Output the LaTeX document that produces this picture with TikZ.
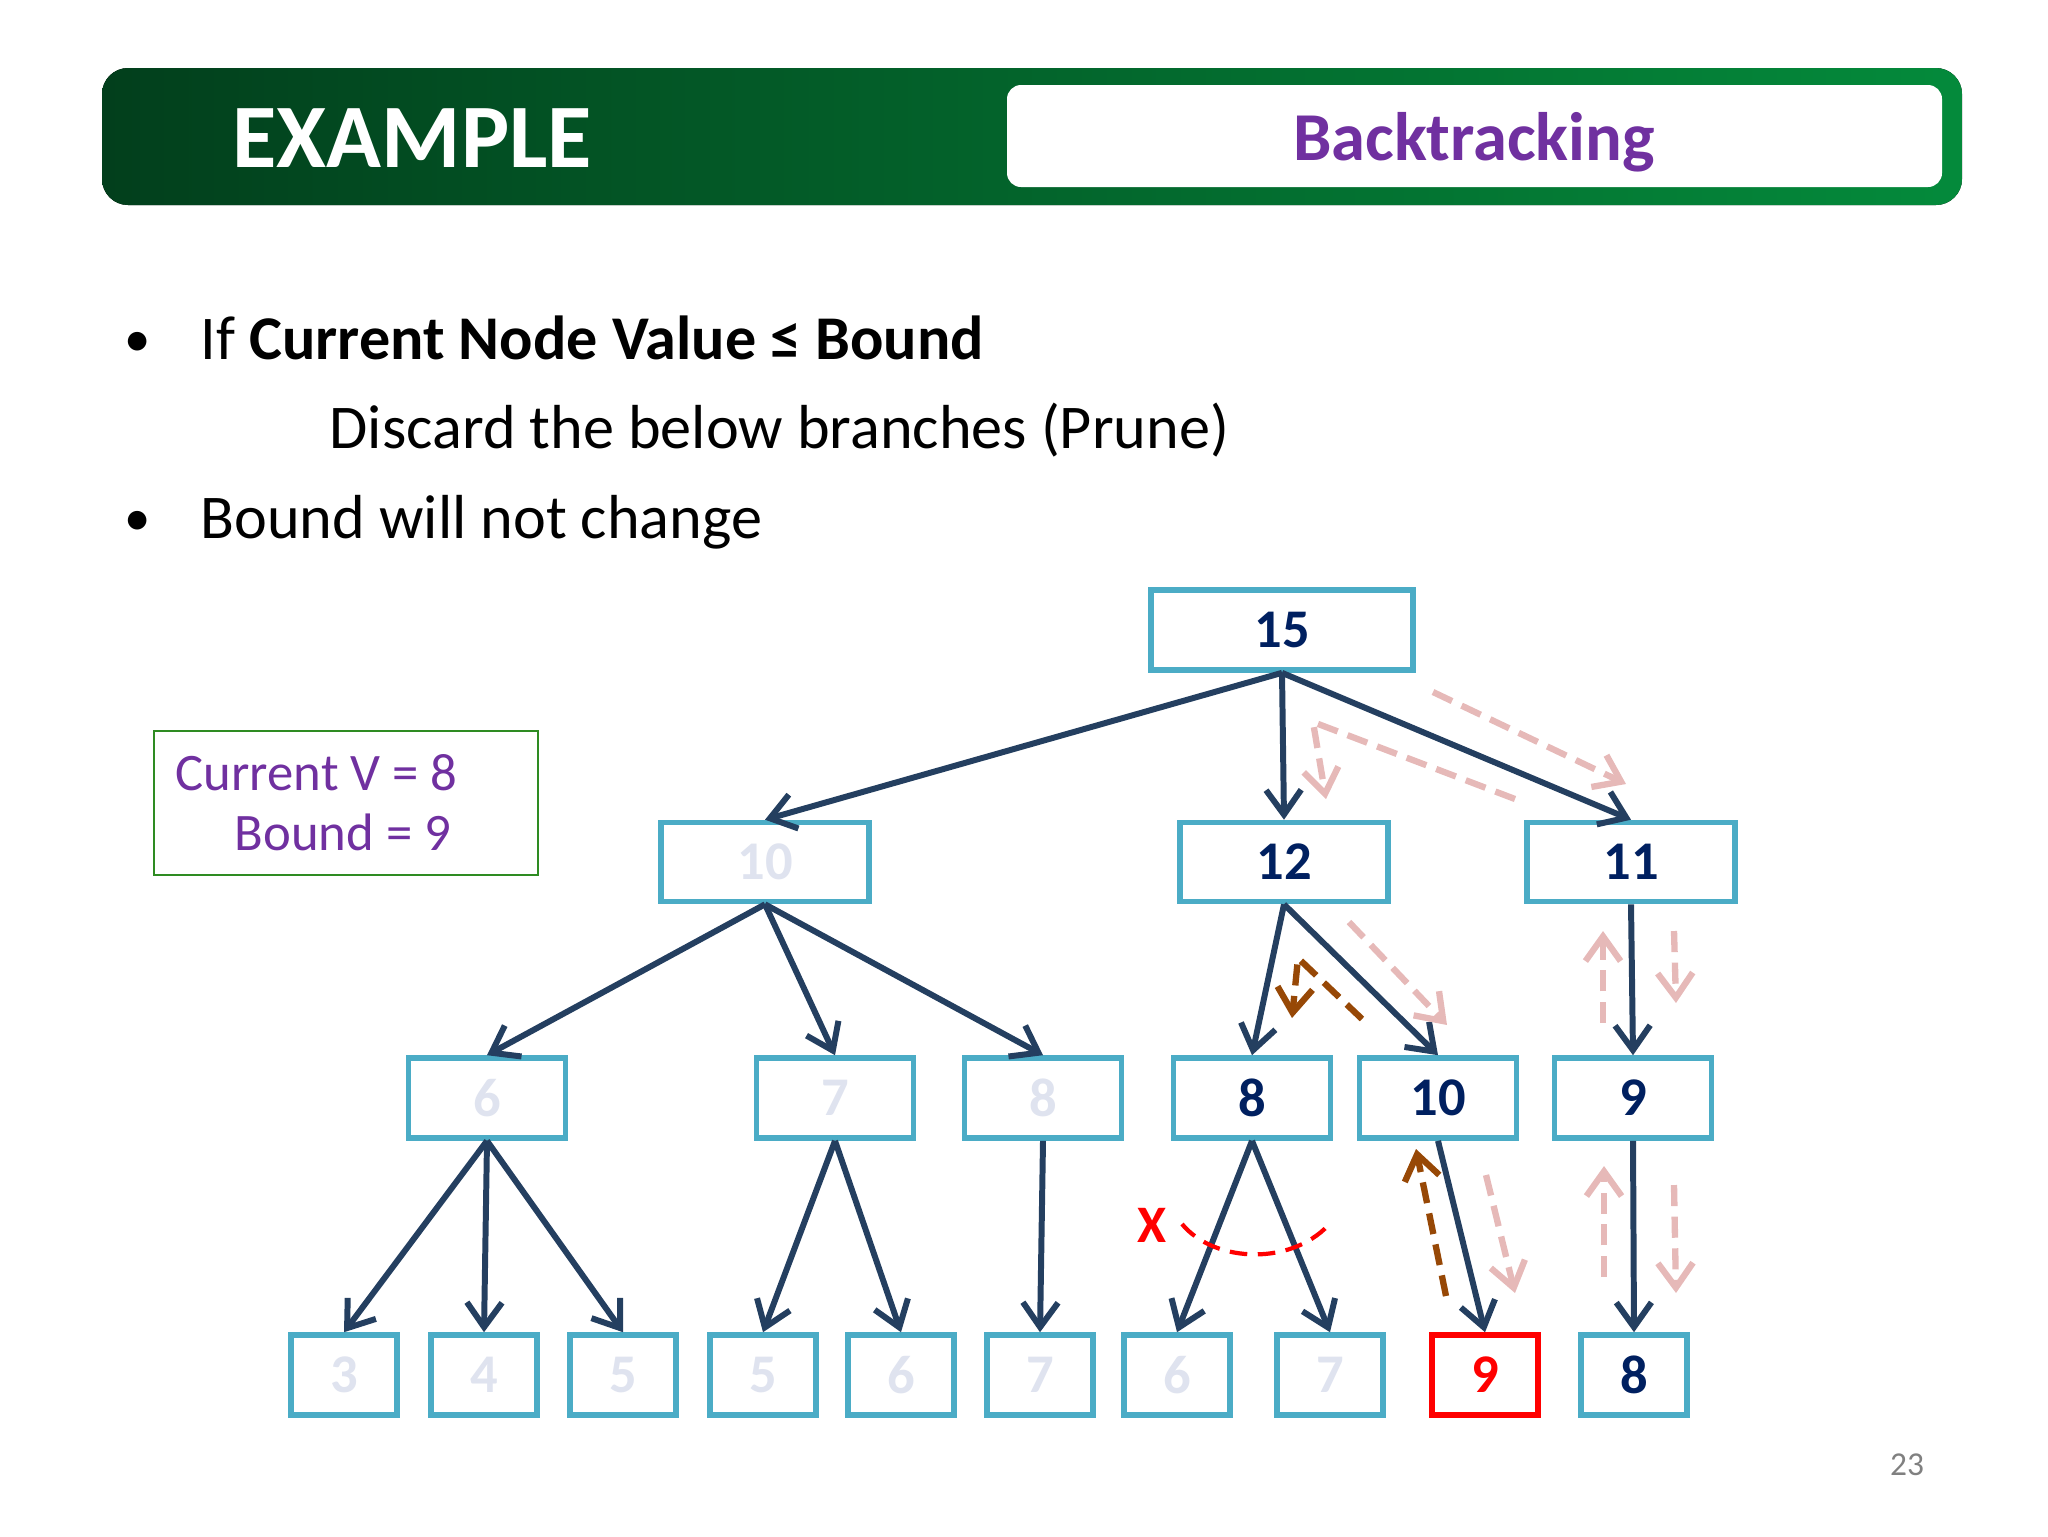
\documentclass[tikz,border=0pt]{standalone}
\usepackage{fontspec}
\setmainfont{Carlito}
\usetikzlibrary{arrows.meta}

\definecolor{hdrdark}{HTML}{023F1C}
\definecolor{hdrlight}{HTML}{048A3B}
\definecolor{slidepurple}{HTML}{7030A0}
\definecolor{boxteal}{HTML}{4BACC6}
\definecolor{numnavy}{HTML}{002060}
\definecolor{edgenavy}{HTML}{243F60}
\definecolor{fadedtxt}{HTML}{DFE3EF}
\definecolor{trailpink}{HTML}{E6B9B8}
\definecolor{trailbrown}{HTML}{974806}
\definecolor{infogreen}{HTML}{2E8B22}

\tikzset{
	treebox/.style={draw=boxteal,line width=1.6pt,fill=white,inner sep=0pt,
		font=\fontsize{15.5}{18}\selectfont\bfseries,text=numnavy},
	topbox/.style={treebox,minimum width=26.2mm,minimum height=8mm},
	midbox/.style={treebox,minimum width=20.8mm,minimum height=7.9mm},
	lowbox/.style={treebox,minimum width=15.7mm,minimum height=8mm},
	leafbox/.style={treebox,minimum width=10.6mm,minimum height=8mm},
	faded/.style={text=fadedtxt},
	goal/.style={draw=red,text=red},
	link/.style={edgenavy,line width=1.7pt,-{Straight Barb[length=7pt,width=10pt]}},
	trail/.style={line width=1.8pt,dash pattern=on 6pt off 3pt,
		-{Straight Barb[length=7pt,width=10pt]}},
	goback/.style={trail,trailbrown},
	goforth/.style={trail,trailpink},
	bodytext/.style={anchor=base west,inner sep=0pt,font=\fontsize{17.7}{22}\selectfont},
	dotmark/.style={anchor=base west,inner sep=0pt,font=\fontsize{15}{18}\selectfont}
}

\begin{document}
\begin{tikzpicture}[x=0.1mm,y=-0.1mm]
	\useasboundingbox (0,0) rectangle (2048,1536);

	\fill[left color=hdrdark,right color=hdrlight,rounded corners=2.6mm] (102,68) rectangle (1962,205);
	\fill[white,rounded corners=1.4mm] (1007,85) rectangle (1942,187);
	\node[anchor=base west,inner sep=0pt,text=white,font=\fontsize{25.8}{30}\selectfont\bfseries] (title) at (232,167) {EXAMPLE};
	\node[anchor=base,inner sep=0pt,text=slidepurple,font=\fontsize{19.5}{23}\selectfont\bfseries] (topic) at (1474,160) {Backtracking};

	\node[dotmark] (dot1) at (124,356) {•};
	\node[bodytext] (rule1) at (200,359) {If \textbf{Current Node Value ≤ Bound}};
	\node[bodytext] (rule1b) at (329,448) {Discard the below branches (Prune)};
	\node[dotmark] (dot2) at (124,535) {•};
	\node[bodytext] (rule2) at (200,538) {Bound will not change};

	\node[draw=infogreen,line width=0.8pt,minimum width=38.4mm,minimum height=14.4mm] (info) at (346,803) {};
	\node[anchor=base west,inner sep=0pt,text=slidepurple,font=\fontsize{15}{18}\selectfont] (curv) at (175,790) {Current V = 8};
	\node[anchor=base west,inner sep=0pt,text=slidepurple,font=\fontsize{15}{18}\selectfont] (bnd) at (234,850) {Bound = 9};

	\node[topbox] (n15) at (1282,630) {15};
	\node[midbox,faded] (n10) at (765,862) {10};
	\node[midbox] (n12) at (1284,862) {12};
	\node[midbox] (n11) at (1631,862) {11};

	\node[lowbox,faded] (n6) at (487,1098) {6};
	\node[lowbox,faded] (n7) at (835,1098) {7};
	\node[lowbox,faded] (n8a) at (1043,1098) {8};
	\node[lowbox] (n8b) at (1252,1098) {8};
	\node[lowbox] (n10b) at (1438,1098) {10};
	\node[lowbox] (n9) at (1633,1098) {9};

	\node[leafbox,faded] (l3) at (344,1375) {3};
	\node[leafbox,faded] (l4) at (484,1375) {4};
	\node[leafbox,faded] (l5a) at (623,1375) {5};
	\node[leafbox,faded] (l5b) at (763,1375) {5};
	\node[leafbox,faded] (l6a) at (901,1375) {6};
	\node[leafbox,faded] (l7a) at (1040,1375) {7};
	\node[leafbox,faded] (l6b) at (1177,1375) {6};
	\node[leafbox,faded] (l7b) at (1330,1375) {7};
	\node[leafbox,goal] (l9) at (1485,1375) {9};
	\node[leafbox] (l8) at (1634,1375) {8};

	\foreach \a/\b in {n15/n10,n15/n12,n15/n11,n10/n6,n10/n7,n10/n8a,n12/n8b,n12/n10b,n11/n9,
		n6/l3,n6/l4,n6/l5a,n7/l5b,n7/l6a,n8a/l7a,n8b/l6b,n8b/l7b,n10b/l9,n9/l8}
		\draw[link] (\a.south) -- (\b.north);

	\coordinate (p1) at (1433,692);
	\coordinate (p2) at (1626,784);
	\coordinate (p3) at (1515,799);
	\coordinate (p4) at (1313,722);
	\coordinate (p5) at (1326,799);
	\coordinate (p6) at (1349,922);
	\coordinate (p7) at (1447,1025);
	\coordinate (p8) at (1603,1023);
	\coordinate (p9) at (1603,931);
	\coordinate (p10) at (1674,931);
	\coordinate (p11) at (1676,1003);
	\coordinate (p12) at (1486,1175);
	\coordinate (p13) at (1515,1293);
	\coordinate (p14) at (1604,1277);
	\coordinate (p15) at (1604,1166);
	\coordinate (p16) at (1674,1185);
	\coordinate (p17) at (1676,1293);
	\draw[goforth] (p1) -- (p2);
	\draw[goforth] (p3) -- (p4) -- (p5);
	\draw[goforth] (p6) -- (p7);
	\draw[goforth] (p8) -- (p9);
	\draw[goforth] (p10) -- (p11);
	\draw[goforth] (p12) -- (p13);
	\draw[goforth] (p14) -- (p15);
	\draw[goforth] (p16) -- (p17);

	\coordinate (q1) at (1446,1296);
	\coordinate (q2) at (1416,1149);
	\coordinate (q3) at (1362,1019);
	\coordinate (q4) at (1298,958);
	\coordinate (q5) at (1292,1018);
	\draw[goback] (q1) -- (q2);
	\draw[goback] (q3) -- (q4) -- (q5);

	\coordinate (c1) at (1182,1224);
	\coordinate (c2) at (1332,1221);
	\draw[red,line width=1.2pt,dash pattern=on 5pt off 3pt] (c1) .. controls (1215,1264) and (1295,1266) .. (c2);
	\node[text=red,font=\fontsize{15}{18}\selectfont\bfseries] (cut) at (1152,1225) {X};

	\node[text=gray,font=\fontsize{9.5}{11}\selectfont] (pageno) at (1907,1465) {23};
\end{tikzpicture}
\end{document}
